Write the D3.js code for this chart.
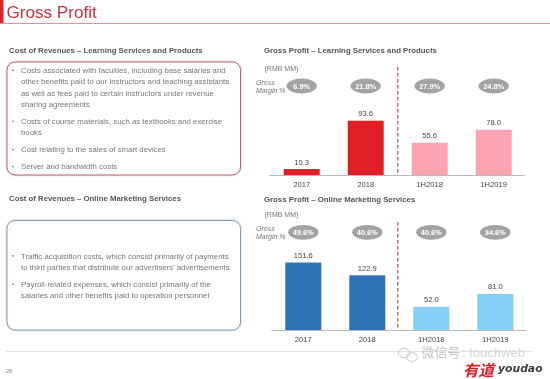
<!DOCTYPE html>
<html>
<head>
<meta charset="utf-8">
<script src="https://cdn.jsdelivr.net/npm/d3@7"></script>
<style>
  html, body { margin: 0; padding: 0; background: #fff; }
  svg { display: block; font-family: "Liberation Sans", Arial, sans-serif; filter: blur(0.45px); }
</style>
</head>
<body>
<svg id="slide" width="550" height="379"></svg>
<script>
let periods = ['2017', '2018', '1H2018', '1H2019']
let learningValues = [10.3, 93.6, 55.6, 78.0]
let learningMargins = ['6.9%', '21.8%', '27.9%', '24.8%']
let onlineValues = [151.6, 122.9, 52.0, 81.0]
let onlineMargins = ['49.6%', '40.6%', '40.6%', '34.6%']

let learningCosts = [
    ['Costs associated with faculties, including base salaries and',
     'other benefits paid to our instructors and teaching assistants',
     'as well as fees paid to certain instructors under revenue',
     'sharing agreements'],
    ['Costs of course materials, such as textbooks and exercise',
     'books'],
    ['Cost relating to the sales of smart devices'],
    ['Server and bandwidth costs'],
]
let onlineCosts = [
    ['Traffic acquisition costs, which consist primarily of payments',
     'to third parties that distribute our advertisers\u2019 advertisements'],
    ['Payroll-related expenses, which consist primarily of the',
     'salaries and other benefits paid to operation personnel'],
]

let $svg = d3.select('#slide')

let defs = $svg.append('defs')
defs.append('filter').attr('id', 'boxShadow')
    .attr('x', '-5%').attr('y', '-5%').attr('width', '110%').attr('height', '110%')
    .append('feDropShadow')
    .attr('dx', 0).attr('dy', 0).attr('stdDeviation', 1.2)
    .attr('flood-color', '#999').attr('flood-opacity', 0.6)

function drawHeader() {
    $svg.append('rect').attr('x', 0).attr('y', 0).attr('width', 3.5).attr('height', 23.5).attr('fill', '#e2202c')
    $svg.append('line').attr('x1', 0).attr('x2', 550).attr('y1', 23.5).attr('y2', 23.5)
        .attr('stroke', '#d98a92').attr('stroke-width', 0.9)
    $svg.append('text').attr('x', 6.5).attr('y', 17.5)
        .attr('font-size', 17.1).attr('fill', '#c9303c').text('Gross Profit')
}

function drawHeading(x, y, label) {
    $svg.append('text').attr('x', x).attr('y', y)
        .attr('font-size', 7.8).attr('font-weight', 'bold').attr('fill', '#55555b').text(label)
}

function drawCostBox(top, bottom, stroke, firstLine, items) {
    $svg.append('rect').attr('x', 7).attr('y', top).attr('width', 233.5).attr('height', bottom - top)
        .attr('rx', 8).attr('fill', '#fff').attr('stroke', stroke).attr('stroke-width', 1)
        .attr('filter', 'url(#boxShadow)')
    let y = firstLine
    items.forEach(lines => {
        $svg.append('circle').attr('cx', 13).attr('cy', y - 2.6).attr('r', 0.8).attr('fill', '#666')
        lines.forEach(line => {
            $svg.append('text').attr('x', 21).attr('y', y)
                .attr('font-size', 7.8).attr('fill', '#77777d').text(line)
            y += 11.3
        })
        y += 5.7
    })
}

function drawChart(cfg) {
    let x = d3.scaleBand().domain(periods)
        .range([cfg.x0, cfg.x0 + 256])
        .paddingInner(0.4375).paddingOuter(0.21875)
    let y = d3.scaleLinear().domain([0, cfg.maxValue]).range([cfg.baseline, cfg.baseline - cfg.maxValue * cfg.pxPerUnit])

    $svg.append('line').attr('x1', cfg.x0).attr('x2', cfg.x0 + 255)
        .attr('y1', cfg.baseline + 0.5).attr('y2', cfg.baseline + 0.5)
        .attr('stroke', '#b9b9bd').attr('stroke-width', 1)

    $svg.selectAll(null).data(periods).enter().append('rect')
        .attr('x', d => x(d))
        .attr('y', (d, i) => y(cfg.values[i]))
        .attr('width', x.bandwidth())
        .attr('height', (d, i) => cfg.baseline - y(cfg.values[i]))
        .attr('fill', (d, i) => i < 2 ? cfg.dark : cfg.light)

    $svg.selectAll(null).data(periods).enter().append('text')
        .attr('x', d => x(d) + x.bandwidth() / 2)
        .attr('y', (d, i) => y(cfg.values[i]) - 4.5)
        .attr('text-anchor', 'middle').attr('font-size', 7.6).attr('fill', '#444')
        .text((d, i) => cfg.values[i].toFixed(1))

    $svg.selectAll(null).data(periods).enter().append('text')
        .attr('x', d => x(d) + x.bandwidth() / 2)
        .attr('y', cfg.baseline + 11.5)
        .attr('text-anchor', 'middle').attr('font-size', 7.6).attr('fill', '#444')
        .text(d => d)

    $svg.selectAll(null).data(periods).enter().append('ellipse')
        .attr('cx', d => x(d) + x.bandwidth() / 2).attr('cy', cfg.pillY)
        .attr('rx', 15.2).attr('ry', 7.4).attr('fill', '#a3a3a6')

    $svg.selectAll(null).data(periods).enter().append('text')
        .attr('x', d => x(d) + x.bandwidth() / 2).attr('y', cfg.pillY + 2.7)
        .attr('text-anchor', 'middle').attr('font-size', 7.4).attr('font-weight', 'bold').attr('fill', '#fff')
        .text((d, i) => cfg.margins[i])

    $svg.append('line').attr('x1', 397.8).attr('x2', 397.8)
        .attr('y1', cfg.baseline - 108).attr('y2', cfg.baseline)
        .attr('stroke', '#c65562').attr('stroke-width', 1.3).attr('stroke-dasharray', '3.4 2.6')

    $svg.append('text').attr('x', 264.5).attr('y', cfg.pillY - 15.3)
        .attr('font-size', 7).attr('fill', '#77777d').text('(RMB MM)')
    $svg.append('text').attr('x', 256).attr('y', cfg.pillY - 1.5)
        .attr('font-size', 7).attr('font-style', 'italic').attr('fill', '#77777d').text('Gross')
    $svg.append('text').attr('x', 256).attr('y', cfg.pillY + 7)
        .attr('font-size', 7).attr('font-style', 'italic').attr('fill', '#77777d').text('Margin %')
}

function drawFooter() {
    $svg.append('line').attr('x1', 6).attr('x2', 533).attr('y1', 351.5).attr('y2', 351.5)
        .attr('stroke', '#dcdcdf').attr('stroke-width', 0.8)
    $svg.append('text').attr('x', 6).attr('y', 372.5)
        .attr('font-size', 5.6).attr('fill', '#888').text('28')

    // wechat watermark
    let $mark = $svg.append('g').attr('fill', 'none').attr('stroke', '#c4c4c6').attr('stroke-width', 0.9)
    $mark.append('ellipse').attr('cx', 404).attr('cy', 353).attr('rx', 5.8).attr('ry', 4.8)
    $mark.append('ellipse').attr('cx', 412).attr('cy', 357).attr('rx', 5.4).attr('ry', 4.4)
    $svg.append('text').attr('x', 421.5).attr('y', 357)
        .attr('font-family', '"Noto Sans CJK SC"').attr('font-size', 13).attr('fill', '#c4c4c6').text('微信号')
    $svg.append('text').attr('x', 462).attr('y', 357)
        .attr('font-size', 13).attr('fill', '#d6d6d8').text(': touchweb')

    // the logo sits just under the watermark
    $svg.append('text').attr('x', 463).attr('y', 376)
        .attr('font-family', '"Noto Sans CJK SC"').attr('font-size', 15.5).attr('font-weight', 'bold')
        .attr('font-style', 'italic').attr('fill', '#d8202a').text('有道')
    $svg.append('text').attr('x', 498).attr('y', 372)
        .attr('font-family', '"DejaVu Sans"').attr('font-size', 10.8).attr('font-weight', 'bold')
        .attr('font-style', 'italic').attr('fill', '#3d3d40').text('youdao')
}

drawHeader()
drawHeading(9, 53, 'Cost of Revenues \u2013 Learning Services and Products')
drawHeading(264, 53, 'Gross Profit \u2013 Learning Services and Products')
drawHeading(9, 201, 'Cost of Revenues \u2013 Online Marketing Services')
drawHeading(264, 202, 'Gross Profit \u2013 Online Marketing Services')

drawCostBox(62, 175, '#c4606c', 73, learningCosts)
drawCostBox(220.5, 330, '#7c9cbc', 258.5, onlineCosts)

drawChart({
    x0: 269.7, baseline: 175, maxValue: 100, pxPerUnit: 0.58,
    values: learningValues, margins: learningMargins,
    dark: '#e01f26', light: '#fba3b0', pillY: 86,
})
drawChart({
    x0: 271.3, baseline: 330, maxValue: 160, pxPerUnit: 0.445,
    values: onlineValues, margins: onlineMargins,
    dark: '#2f72b6', light: '#86d0f8', pillY: 232.3,
})
drawFooter()
</script>
</body>
</html>
